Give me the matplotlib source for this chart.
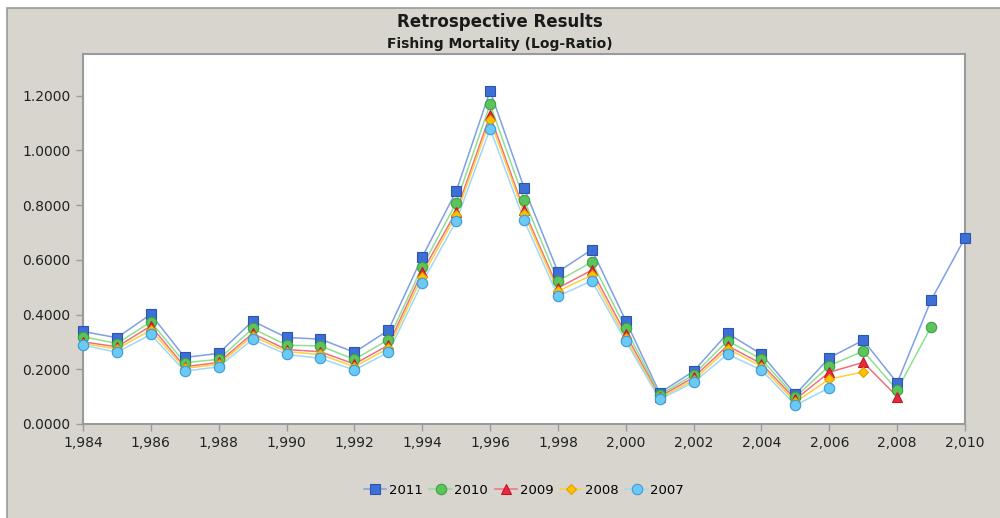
import matplotlib
matplotlib.use("Agg")
import matplotlib.pyplot as plt
import matplotlib.ticker as ticker
from matplotlib.patches import Rectangle
from matplotlib.lines import Line2D

years = list(range(1984, 2011))

f_2011 = [0.338, 0.315, 0.401, 0.243, 0.258, 0.376, 0.316, 0.310, 0.262, 0.342,
          0.610, 0.850, 1.217, 0.864, 0.556, 0.637, 0.377, 0.113, 0.193, 0.331,
          0.255, 0.108, 0.242, 0.306, 0.150, 0.452, 0.680]
f_2010 = [0.319, 0.294, 0.373, 0.224, 0.236, 0.349, 0.288, 0.285, 0.236, 0.308,
          0.574, 0.808, 1.168, 0.820, 0.522, 0.592, 0.349, 0.106, 0.180, 0.304,
          0.237, 0.098, 0.213, 0.266, 0.124, 0.355]
f_2009 = [0.300, 0.282, 0.358, 0.209, 0.225, 0.331, 0.272, 0.264, 0.219, 0.288,
          0.556, 0.775, 1.128, 0.781, 0.497, 0.562, 0.328, 0.100, 0.170, 0.286,
          0.220, 0.090, 0.189, 0.225, 0.100]
f_2008 = [0.294, 0.274, 0.343, 0.203, 0.218, 0.321, 0.264, 0.254, 0.209, 0.276,
          0.538, 0.763, 1.110, 0.769, 0.485, 0.544, 0.313, 0.095, 0.160, 0.275,
          0.210, 0.080, 0.164, 0.190]
f_2007 = [0.288, 0.262, 0.327, 0.193, 0.209, 0.309, 0.254, 0.240, 0.197, 0.262,
          0.516, 0.741, 1.079, 0.745, 0.467, 0.523, 0.303, 0.090, 0.152, 0.255,
          0.197, 0.069, 0.132]

series = [
    ("2011", f_2011, "s", "#3d6fd6", "#2a55b0", "#7f9fe6", 7.5),
    ("2010", f_2010, "o", "#5cc45c", "#3fa03f", "#8fe08f", 7.5),
    ("2009", f_2009, "^", "#e8283c", "#c01828", "#f07080", 7.5),
    ("2008", f_2008, "D", "#ffc000", "#e0a000", "#ffd040", 5.5),
    ("2007", f_2007, "o", "#6cc8f4", "#3a9ad8", "#9fd8f8", 7.5),
]

bg = "#d8d5ce"
fig = plt.figure(figsize=(10, 5.18), dpi=100, facecolor="white")
fig.patches.append(Rectangle((0.007, -0.01), 1.0, 0.9946, transform=fig.transFigure,
                             facecolor=bg, edgecolor="#9a9a9a", linewidth=1.2, zorder=-5))

ax = fig.add_axes([0.083, 0.1815, 0.882, 0.7133])
ax.set_facecolor("white")

handles = []
for name, vals, mk, fc, ec, lc, ms in series:
    ax.plot(years[:len(vals)], vals, color=lc, linewidth=1.1, zorder=2)
    ax.plot(years[:len(vals)], vals, linestyle="none", marker=mk, markersize=ms,
            markerfacecolor=fc, markeredgecolor=ec, markeredgewidth=0.8, zorder=3, clip_on=False)
    handles.append(Line2D([], [], color=lc, linewidth=1.1, marker=mk, markersize=ms,
                          markerfacecolor=fc, markeredgecolor=ec, markeredgewidth=0.8, label=name))

ax.set_xlim(1984, 2010)
ax.set_ylim(0, 1.35)
ax.set_xticks(range(1984, 2011, 2))
ax.set_yticks([0, 0.2, 0.4, 0.6, 0.8, 1.0, 1.2])
ax.xaxis.set_major_formatter(ticker.FuncFormatter(lambda x, _: f"{int(x):,}"))
ax.yaxis.set_major_formatter(ticker.FuncFormatter(lambda y, _: f"{y:.4f}"))
ax.tick_params(axis="both", direction="out", length=5, width=1, color="#9a9a9a",
               labelsize=10, labelcolor="#222222", pad=4)
for s in ax.spines.values():
    s.set_color("#9a9a9a")
    s.set_linewidth(1.5)

fig.text(0.5, 1 - 22 / 518, "Retrospective Results", ha="center", va="center",
         fontsize=12, fontweight="bold", color="#1a1a1a")
fig.text(0.5, 1 - 44 / 518, "Fishing Mortality (Log-Ratio)", ha="center", va="center",
         fontsize=10, fontweight="bold", color="#1a1a1a")

fig.legend(handles=handles, loc="center", bbox_to_anchor=(0.524, 1 - 490 / 518), ncol=5,
           frameon=False, fontsize=9.5, handlelength=1.7, handletextpad=0.2, columnspacing=0.5)

fig.savefig("out.png", dpi=100, facecolor=fig.get_facecolor())
